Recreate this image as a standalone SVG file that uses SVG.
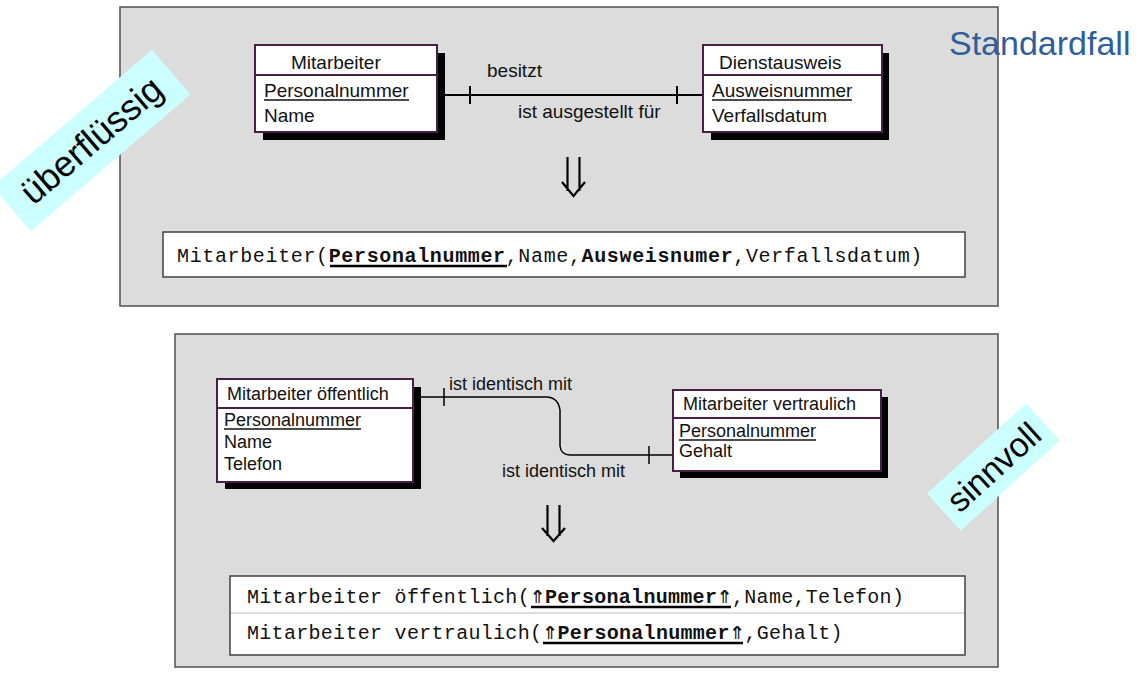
<svg xmlns="http://www.w3.org/2000/svg" width="1140" height="674" viewBox="0 0 1140 674">
<style>
.panel{fill:#dcdcdc;stroke:#505050;stroke-width:1.5}
.ent{fill:#fff;stroke:#4a1f45;stroke-width:2}
.shadow{fill:#000}
.div{stroke:#4a1f45;stroke-width:2}
.t{font-family:"Liberation Sans",Arial,sans-serif;fill:#111}
.t19{font-size:19px}
.t18{font-size:18px}
.ul{stroke:#111;stroke-width:1.3}
.rel{fill:#fff;stroke:#404040;stroke-width:1.5}
.mono{font-family:"Liberation Mono","DejaVu Sans Mono",monospace;font-size:20px;fill:#111}
.b{font-weight:bold}
.arr{font-family:"DejaVu Sans Mono","DejaVu Sans",monospace;font-weight:bold;font-size:24px}
.bul{stroke:#000;stroke-width:2.5}
.conn{fill:none;stroke:#000;stroke-width:2}
.conn2{fill:none;stroke:#000;stroke-width:1.5}
.arrow{fill:none;stroke:#000;stroke-width:2.2}
.banner{fill:#ccffff}
.bt{font-family:"Liberation Sans",Arial,sans-serif;fill:#000;text-anchor:middle}
</style>

<g id="panel-top"><rect class="panel" x="120" y="7" width="878" height="299"/></g>
<g id="panel-bottom"><rect class="panel" x="175" y="334" width="823" height="333"/></g>

<g id="connectors">
  <line class="conn" x1="437" y1="95" x2="703" y2="95"/>
  <line class="conn" x1="470" y1="86" x2="470" y2="104"/>
  <line class="conn" x1="677" y1="86" x2="677" y2="104"/>
  <path class="conn2" d="M413 397 H546 Q558 397 560 410 V446 Q561 455 570 455 H673"/>
  <line class="conn2" x1="444" y1="388" x2="444" y2="406"/>
  <line class="conn2" x1="649" y1="446" x2="649" y2="464"/>
  <text class="t t19" x="487" y="77">besitzt</text>
  <text class="t t19" x="518" y="118">ist ausgestellt für</text>
  <text class="t t18" x="449" y="390">ist identisch mit</text>
  <text class="t t18" x="502" y="477">ist identisch mit</text>
  <path class="arrow" d="M567.5 157 V191 M579.5 157 V191 M562 182 L573.5 196 L585 182"/>
  <path class="arrow" d="M547.5 505 V536 M559.5 505 V536 M542 528 L553.5 541 L565 528"/>
</g>

<g id="mitarbeiter">
  <rect class="shadow" x="263" y="53" width="182" height="87"/>
  <rect class="ent" x="255" y="45" width="182" height="87"/>
  <line class="div" x1="255" y1="75" x2="437" y2="75"/>
  <text class="t t19" x="291" y="69">Mitarbeiter</text>
  <text class="t t19" x="264" y="97">Personalnummer</text>
  <line class="ul" x1="264" y1="100" x2="409" y2="100"/>
  <text class="t t19" x="264" y="122">Name</text>
</g>

<g id="dienstausweis">
  <rect class="shadow" x="711" y="53" width="178" height="87"/>
  <rect class="ent" x="703" y="45" width="179" height="87"/>
  <line class="div" x1="703" y1="75" x2="882" y2="75"/>
  <text class="t t19" x="719" y="69">Dienstausweis</text>
  <text class="t t19" x="712" y="97">Ausweisnummer</text>
  <line class="ul" x1="712" y1="100" x2="852" y2="100"/>
  <text class="t t19" x="712" y="122">Verfallsdatum</text>
</g>

<g id="relation-top">
  <rect class="rel" x="163" y="232" width="802" height="45"/>
  <text class="mono" x="177" y="262" letter-spacing="0.64">Mitarbeiter(<tspan class="b">Personalnummer</tspan>,Name,<tspan class="b">Ausweisnumer</tspan>,Verfallsdatum)</text>
  <line class="bul" x1="330" y1="266" x2="507" y2="266"/>
</g>

<g id="mitarbeiter-oeffentlich">
  <rect class="shadow" x="225" y="387" width="196" height="102"/>
  <rect class="ent" x="217" y="379" width="196" height="103"/>
  <line class="div" x1="217" y1="408" x2="413" y2="408"/>
  <text class="t t18" x="227" y="400">Mitarbeiter öffentlich</text>
  <text class="t t18" x="224" y="426">Personalnummer</text>
  <line class="ul" x1="224" y1="429" x2="361" y2="429"/>
  <text class="t t18" x="224" y="448">Name</text>
  <text class="t t18" x="224" y="470">Telefon</text>
</g>

<g id="mitarbeiter-vertraulich">
  <rect class="shadow" x="680" y="397" width="208" height="81"/>
  <rect class="ent" x="673" y="390" width="208" height="81"/>
  <line class="div" x1="673" y1="418" x2="881" y2="418"/>
  <text class="t t18" x="683" y="410">Mitarbeiter vertraulich</text>
  <text class="t t18" x="679" y="437">Personalnummer</text>
  <line class="ul" x1="679" y1="440" x2="816" y2="440"/>
  <text class="t t18" x="679" y="457">Gehalt</text>
</g>

<g id="relation-bottom">
  <rect class="rel" x="230" y="576" width="735" height="79"/>
  <line x1="231" y1="613" x2="964" y2="613" stroke="#bbbbbb" stroke-width="1.2"/>
  <text class="mono" y="603" letter-spacing="0.3"><tspan x="247">Mitarbeiter öffentlich(</tspan><tspan class="arr" x="530.5">⇑</tspan><tspan class="b" x="545">Personalnummer</tspan><tspan class="arr" x="717.5">⇑</tspan><tspan x="732">,Name,Telefon)</tspan></text>
  <line class="bul" x1="531" y1="607" x2="731" y2="607"/>
  <text class="mono" y="639" letter-spacing="0.3"><tspan x="247">Mitarbeiter vertraulich(</tspan><tspan class="arr" x="543">⇑</tspan><tspan class="b" x="557.5">Personalnummer</tspan><tspan class="arr" x="730">⇑</tspan><tspan x="744.5">,Gehalt)</tspan></text>
  <line class="bul" x1="543" y1="643" x2="743" y2="643"/>
</g>

<g id="label-ueberfluessig" transform="translate(91.5 140.5) rotate(-40.6)">
  <rect class="banner" x="-105" y="-29.5" width="210" height="59"/>
  <text class="bt" x="0" y="12" font-size="36">überflüssig</text>
</g>

<g id="label-sinnvoll" transform="translate(993.5 467) rotate(-42.3)">
  <rect class="banner" x="-67" y="-25" width="134" height="50"/>
  <text class="bt" x="0" y="12" font-size="34">sinnvoll</text>
</g>

<g id="title">
  <text x="949" y="55" font-family="Liberation Sans,Arial,sans-serif" font-size="34" fill="#2f5f98">Standardfall</text>
</g>
</svg>
